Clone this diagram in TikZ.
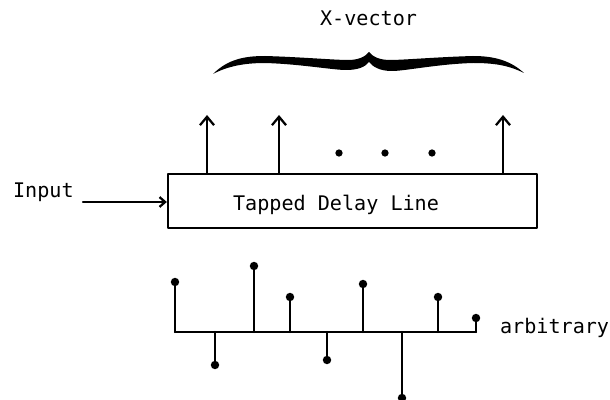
\documentclass[tikz,border=0pt]{standalone}
\usepackage{fontspec}
\setmainfont{DejaVu Sans Mono}
\usetikzlibrary{arrows.meta}
\begin{document}
\begin{tikzpicture}[x=0.025cm, y=-0.025cm, font=\fontsize{14.3}{17}\selectfont, line join=round, line cap=round, line width=1.6pt,
	>={Straight Barb[length=6pt,width=10pt]},
	tdlbox/.style={draw, minimum width=9.225cm, minimum height=1.35cm, inner sep=0pt},
	txt/.style={inner sep=0pt}]
	\useasboundingbox (0,0) rectangle (610,400);
	\def\yb{332} % base line of the impulse response
	% delay line with its taps
	\node[tdlbox] (tdl) at (352.5,201) {};
	\node[txt, anchor=base west] (tdltxt) at (232,210) {Tapped Delay Line};
	\node[txt, anchor=base west] (in) at (12,197) {Input};
	\coordinate (ins) at (83,202);
	\draw[-{Straight Barb[length=4pt,width=7pt]}] (ins) -- (ins -| tdl.west);
	\foreach \x [count=\i] in {207,279,503}{
		\coordinate (tap\i) at (\x,115);
		\draw[->] (tap\i |- tdl.north) -- (tap\i);
	}
	\foreach \x in {339,385,432} \fill (\x,153) circle (2.6pt);
	% brace and X-vector
	\fill (213,74) .. controls (228,59) and (245,56) .. (265,56) .. controls (300,57) and (335,60) .. (348,60)
		.. controls (358,60) and (365,57) .. (369,52) .. controls (373,57) and (380,60) .. (390,60)
		.. controls (403,60) and (438,57) .. (473,56) .. controls (493,56) and (510,60) .. (524,73)
		.. controls (508,65) and (493,63) .. (473,63) .. controls (438,64) and (405,71) .. (392,71)
		.. controls (380,71) and (373,67) .. (369,62) .. controls (365,67) and (358,70) .. (346,70)
		.. controls (333,70) and (300,64) .. (265,63) .. controls (245,63) and (228,66) .. cycle;
	\node[txt, anchor=base west] (xvec) at (319,26) {X-vector};
	% impulse response
	\coordinate (r0) at (175,\yb);
	\coordinate (r1) at (476,\yb);
	\draw (r0) -- (r1);
	\foreach \x/\y in {175/282,215/365,254/266,290/297,327/360,363/284,402/398,438/297,476/318}{
		\draw (\x,\yb) -- (\x,\y);
		\fill (\x,\y) circle (3pt);
	}
	\node[txt, anchor=base west] (arb) at (499,333) {arbitrary};
\end{tikzpicture}
\end{document}
